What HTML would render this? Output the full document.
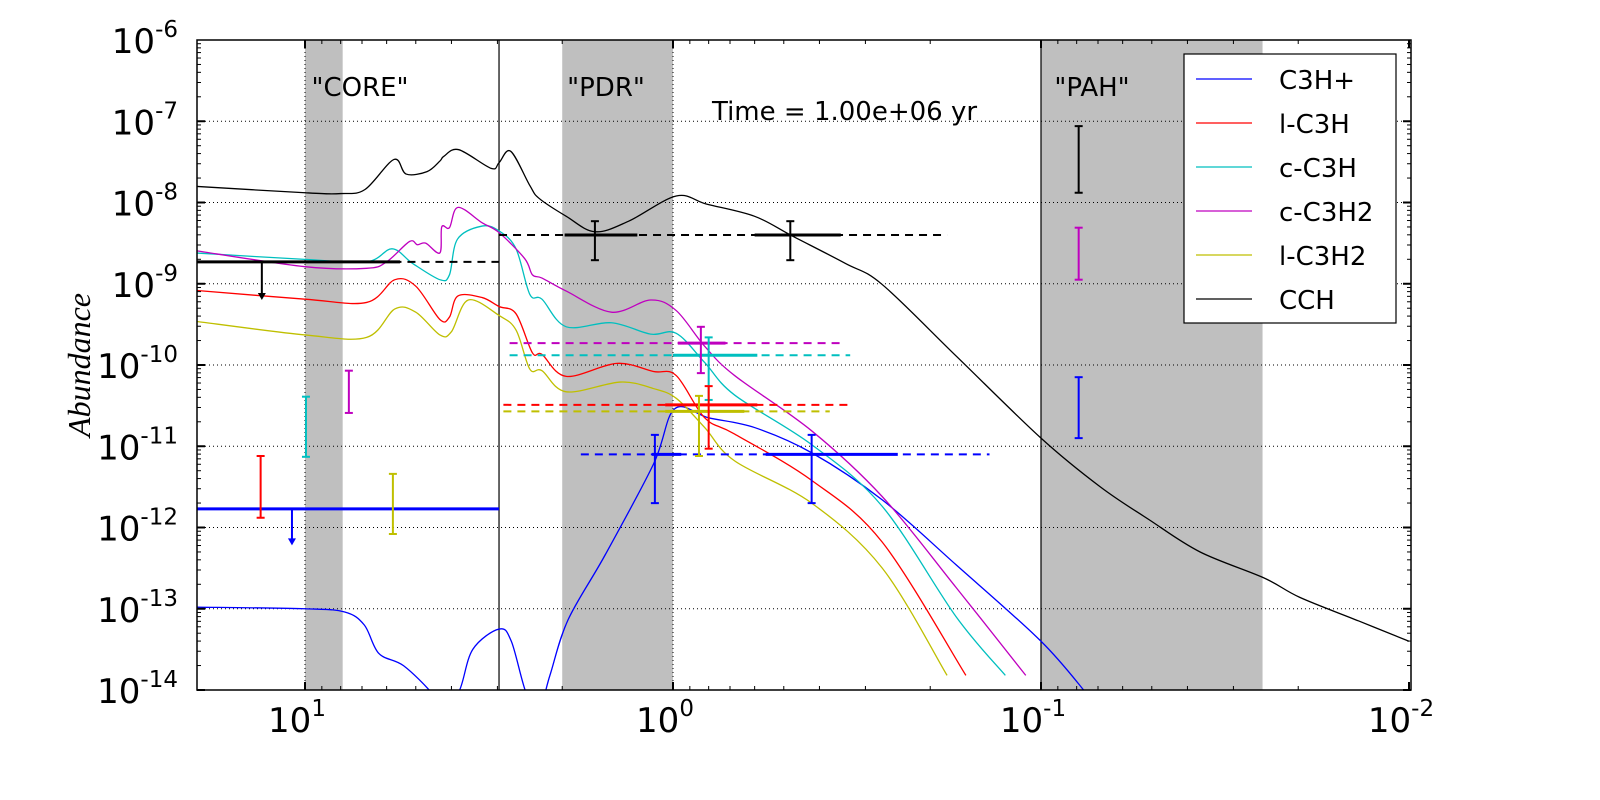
<!DOCTYPE html>
<html><head><meta charset="utf-8"><style>
body{margin:0;background:#fff;}
svg{display:block;font-family:"DejaVu Sans","Liberation Sans",sans-serif;}
</style></head><body>
<svg id="chart" width="1600" height="800" viewBox="0 0 1600 800" xmlns="http://www.w3.org/2000/svg"></svg>
<script>
// ---- data (Av in mag, log10 abundance) ----
const cchAv=[20,10,7.98,6.87,5.73,5.31,4.66,4.30,4.19,3.82,3.12,2.97,2.76,2.45,2.31,1.95,1.63,1.32,0.98,0.81,0.6,0.475,0.34,0.27,0.17,0.1,0.069,0.051,0.037,0.0248,0.0198,0.0137,0.01];
const cchL=[-7.8,-7.88,-7.89,-7.84,-7.47,-7.65,-7.62,-7.49,-7.43,-7.35,-7.58,-7.51,-7.37,-7.79,-7.95,-8.17,-8.36,-8.23,-7.92,-8.02,-8.17,-8.41,-8.75,-9.01,-9.89,-10.9,-11.5,-11.9,-12.3,-12.62,-12.86,-13.15,-13.4];
const c3h2Av=[20,10,6.8,6.0,5.2,4.95,4.7,4.3,4.25,4.05,3.84,3.3,2.97,2.53,2.41,2.27,1.95,1.47,1.15,0.98,0.82,0.68,0.42,0.27,0.17,0.11];
const c3h2L=[-8.59,-8.79,-8.81,-8.73,-8.48,-8.52,-8.50,-8.62,-8.30,-8.31,-8.06,-8.25,-8.37,-8.69,-8.89,-8.93,-9.09,-9.35,-9.20,-9.33,-9.77,-10.13,-10.81,-11.62,-12.74,-13.82];
const cc3hAv=[20,10,6.8,5.8,5.1,4.3,4.05,3.85,3.3,2.97,2.67,2.45,2.27,1.95,1.47,1.15,0.98,0.82,0.68,0.42,0.27,0.17,0.125];
const cc3hL=[-8.62,-8.70,-8.73,-8.57,-8.75,-8.95,-8.89,-8.45,-8.29,-8.35,-8.57,-9.13,-9.19,-9.53,-9.48,-9.62,-9.61,-9.97,-10.37,-10.98,-11.74,-13.1,-13.82];
const lc3hAv=[20,10,6.8,5.7,5.0,4.3,4.05,3.84,3.30,2.97,2.67,2.41,2.27,1.95,1.42,1.13,0.98,0.82,0.68,0.42,0.27,0.16];
const lc3hL=[-9.08,-9.19,-9.23,-8.95,-9.03,-9.44,-9.41,-9.15,-9.17,-9.28,-9.37,-9.85,-9.87,-10.14,-9.98,-10.08,-10.13,-10.65,-10.85,-11.42,-12.18,-13.82];
const lc3h2Av=[20,10,6.8,5.7,5.0,4.3,4.0,3.6,2.97,2.67,2.45,2.27,1.95,1.39,1.13,0.98,0.82,0.68,0.42,0.27,0.18];
const lc3h2L=[-9.46,-9.63,-9.66,-9.31,-9.35,-9.63,-9.59,-9.2,-9.39,-9.57,-10.05,-10.07,-10.33,-10.21,-10.29,-10.41,-10.77,-11.18,-11.7,-12.5,-13.82];
const c3hpAv=[20,10,7.8,6.9,6.3,5.4,4.5,4.2,3.8,3.5,2.97,2.75,2.5,2.3,2.16,1.93,1.53,1.13,0.99,0.8,0.6,0.42,0.27,0.17,0.1,0.075];
const c3hpL=[-12.98,-13.0,-13.04,-13.2,-13.55,-13.7,-14.05,-14.3,-14.0,-13.5,-13.25,-13.4,-14.05,-14.2,-13.82,-13.14,-12.34,-11.22,-10.54,-10.65,-10.77,-11.08,-11.66,-12.46,-13.4,-14.05];

const seriesNames=["C3H+","l-C3H","c-C3H","c-C3H2","l-C3H2","CCH"];
const seriesColors=["#0000ff","#ff0000","#00bfbf","#bf00bf","#bfbf00","#000000"];
const seriesAv=[c3hpAv,lc3hAv,cc3hAv,c3h2Av,lc3h2Av,cchAv];
const seriesL=[c3hpL,lc3hL,cc3hL,c3h2L,lc3h2L,cchL];

// observation dashed levels: [color index, log level, Av start, Av end]
const dashColor=[5,5,3,2,1,4,0];
const dashLevel=[-8.73,-8.4,-9.73,-9.88,-10.49,-10.57,-11.1];
const dashStart=[19.6,2.97,2.78,2.78,2.89,2.89,1.78];
const dashEnd=[2.97,0.18,0.34,0.33,0.33,0.375,0.138];
// thick horizontal segments
const segColor=[5,5,5,3,2,1,4,0,0,0];
const segLevel=[-8.73,-8.4,-8.4,-9.73,-9.88,-10.49,-10.57,-11.1,-11.1,-11.77];
const segStart=[19.6,1.97,0.60,0.97,1.0,1.05,1.05,1.14,0.56,19.6];
const segEnd=[5.52,1.25,0.35,0.72,0.59,0.59,0.64,0.95,0.245,2.97];
// error bars
const errColor=[5,3,0,1,2,3,4,5,5,3,2,1,4,0,0];
const errAv=[0.079,0.079,0.079,13.2,9.94,7.6,5.77,1.63,0.48,0.84,0.80,0.80,0.85,1.12,0.42];
const errLo=[-7.88,-8.95,-10.90,-11.88,-11.13,-10.59,-12.08,-8.71,-8.71,-10.10,-10.43,-11.03,-11.12,-11.70,-11.70];
const errHi=[-7.06,-8.31,-10.15,-11.12,-10.39,-10.07,-11.34,-8.23,-8.23,-9.53,-9.66,-10.26,-10.38,-10.86,-10.86];
// upper-limit arrows
const arrowColor=[5,0];
const arrowAv=[13.1,10.85];
const arrowFrom=[-8.73,-11.77];
const arrowTo=[-9.2,-12.22];
// shaded regions
const bandStart=[10,2,0.1];
const bandEnd=[7.9,1,0.025];
const yTicks=[-6,-7,-8,-9,-10,-11,-12,-13,-14];
const xTicks=[1,0,-1,-2];

const L=197,R=1411,T=40,B=690;
const X=av=>305+(1-Math.log10(av))*368;
const Y=l=>T+(-6-l)*81.25;
const NS="http://www.w3.org/2000/svg";
const svg=document.getElementById('chart');
function mk(tag,attrs,parent){const e=document.createElementNS(NS,tag);for(const k in attrs)e.setAttribute(k,attrs[k]);(parent||svg).appendChild(e);return e;}
const defs=mk('defs',{});
const cp=mk('clipPath',{id:'clip'},defs);mk('rect',{x:L,y:T,width:R-L,height:B-T},cp);

// bands
for(let i=0;i<bandStart.length;i++){
 const r=mk('rect',{x:X(bandStart[i]),y:T,width:X(bandEnd[i])-X(bandStart[i]),height:B-T,fill:'#bfbfbf'});
 
 
}
// grid
for(const t of yTicks){
 if(t===-6||t===-14)continue;
 const g=mk('line',{x1:L,x2:R,y1:Y(t),y2:Y(t),stroke:'#000','stroke-width':1,'stroke-dasharray':'1,3'});
 
 
}
for(const v of [10,1]){
 const g=mk('line',{x1:X(v),x2:X(v),y1:T,y2:B,stroke:'#000','stroke-width':1,'stroke-dasharray':'1,3'});
 
 
}
for(const v of [2.97,0.1]){
 const g=mk('line',{x1:X(v),x2:X(v),y1:T,y2:B,stroke:'#000','stroke-width':1.2});
 
 
}
// curves
const gc=mk('g',{'clip-path':'url(#clip)'});
for(let s=0;s<seriesNames.length;s++){
 const pts=seriesAv[s].map((a,i)=>[X(a),Y(seriesL[s][i])]);
 let d='M'+pts[0][0]+','+pts[0][1];
 for(let i=0;i<pts.length-1;i++){
  const p0=pts[i-1]||pts[i],p1=pts[i],p2=pts[i+1],p3=pts[i+2]||p2;
  const c1=[p1[0]+(p2[0]-p0[0])/6,p1[1]+(p2[1]-p0[1])/6],c2=[p2[0]-(p3[0]-p1[0])/6,p2[1]-(p3[1]-p1[1])/6];
  d+=`C${c1[0]},${c1[1]} ${c2[0]},${c2[1]} ${p2[0]},${p2[1]}`;
 }
 const p=mk('path',{d:d,fill:'none',stroke:seriesColors[s],'stroke-width':1.3},gc);
 
 
}
// dashed obs
for(let i=0;i<dashLevel.length;i++){
 const l=mk('line',{x1:X(dashStart[i]),x2:X(dashEnd[i]),y1:Y(dashLevel[i]),y2:Y(dashLevel[i]),stroke:seriesColors[dashColor[i]],'stroke-width':2,'stroke-dasharray':'8,6'});
 
 
}
for(let i=0;i<segLevel.length;i++){
 const l=mk('line',{x1:X(segStart[i]),x2:X(segEnd[i]),y1:Y(segLevel[i]),y2:Y(segLevel[i]),stroke:seriesColors[segColor[i]],'stroke-width':3});
 
 
}
for(let i=0;i<errAv.length;i++){
 const x=X(errAv[i]),c=seriesColors[errColor[i]];
 const g=mk('g',{stroke:c,'stroke-width':2});
 
 
 mk('line',{x1:x,x2:x,y1:Y(errLo[i]),y2:Y(errHi[i])},g);
 mk('line',{x1:x-4,x2:x+4,y1:Y(errLo[i]),y2:Y(errLo[i])},g);
 mk('line',{x1:x-4,x2:x+4,y1:Y(errHi[i]),y2:Y(errHi[i])},g);
}
for(let i=0;i<arrowAv.length;i++){
 const x=X(arrowAv[i]),c=seriesColors[arrowColor[i]],y2=Y(arrowTo[i]);
 const g=mk('g',{});
 
 
 mk('line',{x1:x,x2:x,y1:Y(arrowFrom[i]),y2:y2-6,stroke:c,'stroke-width':2},g);
 mk('polygon',{points:`${x-4},${y2-7} ${x+4},${y2-7} ${x},${y2}`,fill:c},g);
}
// axes frame
const fr=mk('rect',{x:L,y:T,width:R-L,height:B-T,fill:'none',stroke:'#000','stroke-width':1.5});


// ticks
for(let d=-14;d<-6;d++){for(let m=1;m<10;m++){
 const y=Y(d+Math.log10(m));const maj=m===1;const len=maj?8:4;
 mk('line',{x1:L,x2:L+len,y1:y,y2:y,stroke:'#000','stroke-width':maj?2:1});
 mk('line',{x1:R,x2:R-len,y1:y,y2:y,stroke:'#000','stroke-width':maj?2:1});
}}
for(let d=-2;d<2;d++){for(let m=1;m<10;m++){
 const v=Math.pow(10,d)*m;const x=X(v);if(x<L-0.5||x>R+0.5)continue;const maj=m===1;const len=maj?8:4;
 mk('line',{x1:x,x2:x,y1:B,y2:B-len,stroke:'#000','stroke-width':maj?2:1});
 mk('line',{x1:x,x2:x,y1:T,y2:T+len,stroke:'#000','stroke-width':maj?2:1});
}}
for(const t of yTicks){
 const tx=mk('text',{x:178,y:Y(t)+13,'text-anchor':'end','font-size':34,fill:'#000'});
 
 
 tx.innerHTML=`10<tspan dy="-16" font-size="23">${t}</tspan>`;
}
for(const t of xTicks){
 const tx=mk('text',{x:X(Math.pow(10,t))-8,y:732,'text-anchor':'middle','font-size':34,fill:'#000'});
 
 
 tx.innerHTML=`10<tspan dy="-16" font-size="23">${t}</tspan>`;
}
const yl=mk('text',{x:0,y:0,transform:'translate(90,365) rotate(-90)','text-anchor':'middle','font-size':32,'font-style':'italic','font-family':'"Liberation Serif",serif',fill:'#000'});


yl.textContent='Abundance';
const labs=[['"CORE"',360,'core-label'],['"PDR"',606,'pdr-label'],['"PAH"',1092,'pah-label']];
for(const [t,x,n] of labs){
 const e=mk('text',{x:x,y:96,'text-anchor':'middle','font-size':26,fill:'#000'});
 
 
 e.textContent=t;
}
const tm=mk('text',{x:712,y:120,'font-size':26,fill:'#000'});


tm.textContent='Time = 1.00e+06 yr';
// legend
const lg=mk('g',{});


mk('rect',{x:1184,y:54,width:212,height:269,fill:'#fff',stroke:'#000','stroke-width':1.2},lg);
for(let i=0;i<seriesNames.length;i++){
 const y=79+i*44;
 const en=mk('g',{},lg);
 
 
 mk('line',{x1:1196,x2:1252,y1:y,y2:y,stroke:seriesColors[i],'stroke-width':1.3},en);
 const t=mk('text',{x:1279,y:y+10,'font-size':26,fill:'#000'},en);
 t.textContent=seriesNames[i];
}
</script>
</body></html>
